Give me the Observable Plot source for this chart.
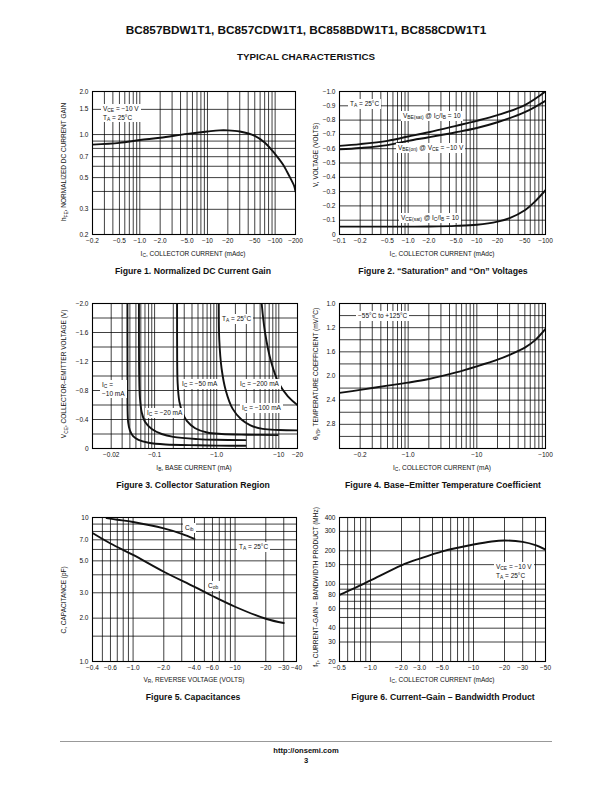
<!DOCTYPE html>
<html><head><meta charset="utf-8">
<script src="https://cdn.jsdelivr.net/npm/d3@7"></script>
<script src="https://cdn.jsdelivr.net/npm/@observablehq/plot@0.6"></script>
<style>
body{margin:0;background:#fff;}
#page{position:relative;width:612px;height:792px;font-family:"Liberation Sans",Arial,Helvetica,sans-serif;color:#111;overflow:hidden;background:#fff}
.abs{position:absolute;white-space:nowrap}
sub{font-size:0.75em;vertical-align:-0.3em;line-height:0}
</style></head>
<body><div id="page"></div>
<script>
// ---------- DATA ----------
// Figure 1: normalized DC current gain vs collector current (mA, magnitude)
const f1Ic   = [0.2, 0.5, 1, 2, 5, 10, 15, 20, 30, 50, 70, 100, 130, 150, 170, 190, 200];
const f1Gain = [0.85, 0.875, 0.915, 0.95, 1.01, 1.05, 1.07, 1.07, 1.05, 0.98, 0.88, 0.73, 0.62, 0.55, 0.49, 0.44, 0.40];
const f1XTicks = [0.2, 0.5, 1, 2, 5, 10, 20, 50, 100, 200];
const f1XLabels = ["−0.2","−0.5","−1.0","−2.0","−5.0","−10","−20","−50","−100","−200"];
const f1YTicks = [0.2, 0.3, 0.5, 0.7, 1.0, 1.5, 2.0];
const f1YLabels = ["0.2","0.3","0.5","0.7","1.0","1.5","2.0"];
const f1YGrid = [0.2,0.3,0.4,0.5,0.6,0.7,0.8,0.9,1.0,1.5,2.0];

// Figure 2: saturation and on voltages (V, magnitude)
const f2Ic      = [0.1, 0.2, 0.5, 1, 2, 5, 10, 20, 50, 100];
const f2VbeSat  = [0.62, 0.632, 0.655, 0.685, 0.715, 0.76, 0.795, 0.835, 0.905, 1.0];
const f2VbeOn   = [0.595, 0.605, 0.625, 0.655, 0.68, 0.715, 0.745, 0.785, 0.855, 0.935];
const f2IcSat   = [0.1, 0.5, 1, 2, 5, 10, 20, 30, 50, 70, 100];
const f2VceSat  = [0.055, 0.055, 0.055, 0.056, 0.06, 0.068, 0.09, 0.115, 0.17, 0.23, 0.31];
const f2XTicks = [0.1, 0.2, 0.5, 1, 2, 5, 10, 20, 50, 100];
const f2XLabels = ["−0.1","−0.2","−0.5","−1.0","−2.0","−5.0","−10","−20","−50","−100"];
const f2YTicks = [0,0.1,0.2,0.3,0.4,0.5,0.6,0.7,0.8,0.9,1.0];
const f2YLabels = ["0","−0.1","−0.2","−0.3","−0.4","−0.5","−0.6","−0.7","−0.8","−0.9","−1.0"];

// Figure 3: collector saturation region, VCE (V) vs IB (mA)
const f3Ib10  = [0.0365, 0.0366, 0.0368, 0.0375, 0.04, 0.045, 0.055, 0.08, 0.15, 0.5, 1.0, 2.9];
const f3V10   = [2.0, 1.0, 0.5, 0.36, 0.25, 0.17, 0.12, 0.08, 0.056, 0.045, 0.04, 0.037];
const f3Ib20  = [0.056, 0.0565, 0.058, 0.062, 0.07, 0.09, 0.13, 0.2, 0.5, 1.0, 2.9];
const f3V20   = [2.0, 1.0, 0.7, 0.5, 0.37, 0.27, 0.2, 0.16, 0.13, 0.12, 0.115];
const f3Ib50  = [0.23, 0.231, 0.235, 0.25, 0.28, 0.33, 0.45, 0.7, 1.2, 3, 9.6];
const f3V50   = [2.0, 1.2, 0.9, 0.65, 0.5, 0.38, 0.28, 0.22, 0.2, 0.19, 0.185];
const f3Ib100 = [1.08, 1.1, 1.2, 1.4, 1.8, 2.5, 3.5, 5.5, 10, 19.9];
const f3V100  = [2.0, 1.5, 1.1, 0.8, 0.55, 0.4, 0.32, 0.27, 0.255, 0.25];
const f3Ib200 = [5.3, 6, 7.5, 10, 14, 20];
const f3V200  = [2.0, 1.6, 1.2, 0.9, 0.72, 0.6];
const f3XTicks = [0.02, 0.1, 1, 10, 20];
const f3XLabels = ["−0.02","−0.1","−1.0","−10","−20"];
const f3YTicks = [0, 0.4, 0.8, 1.2, 1.6, 2.0];
const f3YLabels = ["0","−0.4","−0.8","−1.2","−1.6","−2.0"];

// Figure 4: base-emitter temperature coefficient (mV/°C) vs IC (mA)
const f4Ic   = [0.1, 0.2, 0.5, 1, 2, 5, 10, 20, 30, 50, 70, 100];
const f4Coef = [2.28, 2.23, 2.16, 2.11, 2.05, 1.94, 1.84, 1.73, 1.65, 1.53, 1.41, 1.22];
const f4XTicks = [0.2, 1, 10, 100];
const f4XLabels = ["−0.2","−1.0","−10","−100"];
const f4YTicks = [0.8, 1.2, 1.6, 2.0, 2.4, 2.8];
const f4YLabels = ["1.0","1.2","1.6","2.0","2.4","2.8"];

// Figure 5: capacitances (pF) vs reverse voltage (V)
const f5CibV = [0.55, 0.7, 1, 2, 3, 4];
const f5Cib  = [9.9, 9.65, 9.3, 8.4, 7.7, 7.1];
const f5CobV = [0.4, 0.6, 1, 2, 4, 6, 10, 20, 30];
const f5Cob  = [7.8, 6.6, 5.5, 4.2, 3.3, 2.85, 2.4, 1.98, 1.85];
const f5XTicks = [0.4, 0.6, 1, 2, 4, 6, 10, 20, 30, 40];
const f5XLabels = ["−0.4","−0.6","−1.0","−2.0","−4.0","−6.0","−10","−20","−30","−40"];
const f5YTicks = [1, 2, 3, 5, 7, 10];
const f5YLabels = ["1.0","2.0","3.0","5.0","7.0","10"];
const f5YGrid = [1, 1.5, 2, 3, 4, 5, 6, 7, 8, 9, 10];

// Figure 6: current-gain bandwidth product (MHz) vs IC (mA)
const f6Ic = [0.5, 0.7, 1, 2, 3, 5, 10, 15, 20, 30, 40, 50];
const f6Ft = [80, 92, 108, 148, 170, 198, 228, 243, 248, 241, 225, 205];
const f6XTicks = [0.5, 1, 2, 3, 5, 10, 20, 30, 50];
const f6XLabels = ["−0.5","−1.0","−2.0","−3.0","−5.0","−10","−20","−30","−50"];
const f6YTicks = [20, 30, 40, 60, 80, 100, 150, 200, 300, 400];
const f6YLabels = ["20","30","40","60","80","100","150","200","300","400"];
const f6YGrid = [20,30,40,50,60,70,80,90,100,150,200,300,400];

// ---------- HELPERS ----------
const FONT = '"Liberation Sans", Arial, Helvetica, sans-serif';
const page = document.getElementById('page');
const pts = (xs, ys) => xs.map((x, i) => ({x, y: ys[i]}));
function logGrid(lo, hi) {
  const out = [];
  for (let e = -3; e <= 3; e++) for (let k = 1; k < 10; k++) {
    const v = +(k * Math.pow(10, e)).toPrecision(3);
    if (v >= lo * 0.999 && v <= hi * 1.001) out.push(v);
  }
  return out;
}
function linGrid(lo, hi, step) {
  return d3.range(Math.round(lo / step), Math.round(hi / step) + 1).map(i => +(i * step).toFixed(4));
}
const ML = 34, MR = 14, MT = 6, MB = 16;
const TICK = 6.5, LAB = 6.5;
function chart(o) {
  const lines = o.series.map(s => Plot.line(s, {x: "x", y: "y", curve: "catmull-rom", stroke: "#111", strokeWidth: 1.9, clip: true}));
  const svg = Plot.plot({
    width: o.w + ML + MR, height: o.h + MT + MB,
    marginLeft: ML, marginRight: MR, marginTop: MT, marginBottom: MB,
    style: {fontFamily: FONT, fontSize: TICK + "px", color: "#111", background: "transparent", overflow: "visible"},
    x: {type: "log", domain: o.xDomain, axis: null},
    y: Object.assign({type: o.yType || "linear", domain: o.yDomain, axis: null}, o.yReverse ? {reverse: true} : {}),
    marks: [
      Plot.ruleX(o.gridX, {stroke: "#000", strokeWidth: 0.75}),
      Plot.ruleY(o.gridY, {stroke: "#000", strokeWidth: 0.75}),
      ...lines,
      Plot.frame({stroke: "#000", strokeWidth: 1.1}),
      Plot.text(o.xTicks, {x: d => d, text: d => o.xLabels[o.xTicks.indexOf(d)], frameAnchor: "bottom",
        lineAnchor: "top", dy: 4, fontSize: TICK, fill: "#111"}),
      Plot.text(o.yTicks, {y: d => d, text: d => o.yLabels[o.yTicks.indexOf(d)], frameAnchor: "left",
        textAnchor: "end", dx: -4, fontSize: TICK, fill: "#111"})
    ]
  });
  svg.style.position = "absolute";
  svg.style.left = (o.left - ML) + "px";
  svg.style.top = (o.top - MT) + "px";
  page.appendChild(svg);
  return svg;
}
function addDiv(html, css) {
  const d = document.createElement("div");
  d.className = "abs"; d.innerHTML = html; Object.assign(d.style, css);
  page.appendChild(d); return d;
}
function center(html, cx, cy, size, bold) {
  const w = 400;
  addDiv(html, {left: (cx - w/2) + "px", top: (cy - size*0.6) + "px", width: w + "px", textAlign: "center",
    fontSize: size + "px", lineHeight: (size*1.2) + "px", fontWeight: bold ? "bold" : "normal"});
}
function vlabel(html, cx, cy, size) {
  const w = 240;
  addDiv(html, {left: (cx - w/2) + "px", top: (cy - size*0.6) + "px", width: w + "px", textAlign: "center",
    fontSize: size + "px", lineHeight: (size*1.2) + "px", transform: "rotate(-90deg)"});
}
function note(html, x, cy, size) {
  size = size || LAB;
  const lines = (html.match(/<br>/g) || []).length + 1;
  const lh = size * 1.45;
  addDiv(html, {left: x + "px", top: (cy - lh*lines/2) + "px", fontSize: size + "px", lineHeight: lh + "px",
    background: "#fff", padding: "0 2px"});
}

// ---------- PAGE ----------
center("BC857BDW1T1, BC857CDW1T1, BC858BDW1T1, BC858CDW1T1", 306, 30, 11.8, true);
center("TYPICAL CHARACTERISTICS", 306, 57, 9.8, true);

// Figure 1
chart({left: 92, top: 91, w: 203, h: 143, xDomain: [0.2, 200], yType: "log", yDomain: [0.2, 2.0],
  gridX: logGrid(0.2, 200), gridY: f1YGrid, xTicks: f1XTicks, xLabels: f1XLabels, yTicks: f1YTicks, yLabels: f1YLabels,
  series: [pts(f1Ic, f1Gain)]});
note("V<sub>CE</sub> = −10 V<br>T<sub>A</sub> = 25°C", 101, 113);
center("I<sub>C</sub>, COLLECTOR CURRENT (mAdc)", 193, 254, LAB);
vlabel("h<sub>FE</sub>, NORMALIZED DC CURRENT GAIN", 64, 162, LAB);
center("Figure 1. Normalized DC Current Gain", 193, 271, 8.7, true);

// Figure 2
chart({left: 339, top: 91, w: 206, h: 143, xDomain: [0.1, 100], yDomain: [0, 1],
  gridX: logGrid(0.1, 100), gridY: linGrid(0, 1, 0.1), xTicks: f2XTicks, xLabels: f2XLabels, yTicks: f2YTicks, yLabels: f2YLabels,
  series: [pts(f2Ic, f2VbeSat), pts(f2Ic, f2VbeOn), pts(f2IcSat, f2VceSat)]});
note("T<sub>A</sub> = 25°C", 348, 104);
note("V<sub>BE(sat)</sub> @ I<sub>C</sub>/I<sub>B</sub> = 10", 401, 116);
note("V<sub>BE(on)</sub> @ V<sub>CE</sub> = −10 V", 396, 148);
note("V<sub>CE(sat)</sub> @ I<sub>C</sub>/I<sub>B</sub> = 10", 399, 218);
center("I<sub>C</sub>, COLLECTOR CURRENT (mAdc)", 442, 254, LAB);
vlabel("V, VOLTAGE (VOLTS)", 316, 155, LAB);
center("Figure 2. “Saturation” and “On” Voltages", 443, 271, 8.7, true);

// Figure 3
chart({left: 92, top: 303, w: 205, h: 145, xDomain: [0.01, 20], yDomain: [0, 2],
  gridX: logGrid(0.01, 20), gridY: linGrid(0, 2, 0.2), xTicks: f3XTicks, xLabels: f3XLabels, yTicks: f3YTicks, yLabels: f3YLabels,
  series: [pts(f3Ib10, f3V10), pts(f3Ib20, f3V20), pts(f3Ib50, f3V50), pts(f3Ib100, f3V100), pts(f3Ib200, f3V200)]});
note("T<sub>A</sub> = 25°C", 220, 319);
note("I<sub>C</sub> =<br>−10 mA", 100, 389);
note("I<sub>C</sub> = −50 mA", 180, 384);
note("I<sub>C</sub> = −200 mA", 238, 384);
note("I<sub>C</sub> = −20 mA", 145, 413);
note("I<sub>C</sub> = −100 mA", 240, 408);
center("I<sub>B</sub>, BASE CURRENT (mA)", 194, 468, LAB);
vlabel("V<sub>CE</sub>, COLLECTOR–EMITTER VOLTAGE (V)", 64, 374, LAB);
center("Figure 3. Collector Saturation Region", 193, 485, 8.7, true);

// Figure 4
chart({left: 339, top: 303, w: 206, h: 145, xDomain: [0.1, 100], yDomain: [0.8, 3.2], yReverse: true,
  gridX: logGrid(0.1, 100), gridY: linGrid(0.8, 3.2, 0.2), xTicks: f4XTicks, xLabels: f4XLabels, yTicks: f4YTicks, yLabels: f4YLabels,
  series: [pts(f4Ic, f4Coef)]});
note("−55°C to +125°C", 356, 316);
center("I<sub>C</sub>, COLLECTOR CURRENT (mA)", 442, 468, LAB);
vlabel("θ<sub>VB</sub>, TEMPERATURE COEFFICIENT (mV/°C)", 316, 374, LAB);
center("Figure 4. Base–Emitter Temperature Coefficient", 443, 485, 8.7, true);

// Figure 5
chart({left: 92, top: 517, w: 204, h: 144, xDomain: [0.4, 40], yType: "log", yDomain: [1, 10],
  gridX: logGrid(0.4, 40).filter(v => v <= 10 || v % 10 === 0), gridY: f5YGrid, xTicks: f5XTicks, xLabels: f5XLabels, yTicks: f5YTicks, yLabels: f5YLabels,
  series: [pts(f5CibV, f5Cib), pts(f5CobV, f5Cob)]});
note("C<sub>ib</sub>", 183, 528);
note("T<sub>A</sub> = 25°C", 237, 547);
note("C<sub>ob</sub>", 206, 586);
center("V<sub>R</sub>, REVERSE VOLTAGE (VOLTS)", 194, 680, LAB);
vlabel("C, CAPACITANCE (pF)", 64, 600, LAB);
center("Figure 5. Capacitances", 193, 697, 8.7, true);

// Figure 6
chart({left: 339, top: 517, w: 206, h: 144, xDomain: [0.5, 50], yType: "log", yDomain: [20, 400],
  gridX: logGrid(0.5, 50), gridY: f6YGrid, xTicks: f6XTicks, xLabels: f6XLabels, yTicks: f6YTicks, yLabels: f6YLabels,
  series: [pts(f6Ic, f6Ft)]});
note("V<sub>CE</sub> = −10 V<br>T<sub>A</sub> = 25°C", 494, 571);
center("I<sub>C</sub>, COLLECTOR CURRENT (mAdc)", 442, 680, LAB);
vlabel("f<sub>T</sub>, CURRENT–GAIN – BANDWIDTH PRODUCT (MHz)", 316, 587, LAB);
center("Figure 6. Current–Gain – Bandwidth Product", 443, 697, 8.7, true);

// Footer
addDiv("", {left: "60px", top: "741px", width: "492px", height: "0", borderTop: "1px solid #999"});
center("http://onsemi.com", 306, 751, 7.6, true);
center("3", 306, 761, 7.6, true);
</script>
</body></html>
